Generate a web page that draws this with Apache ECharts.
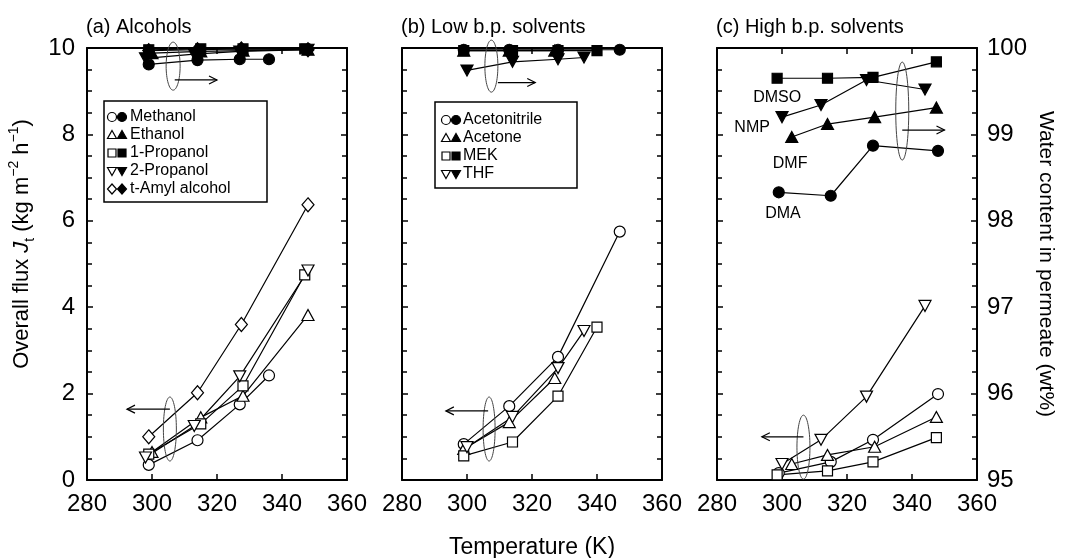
<!DOCTYPE html>
<html>
<head>
<meta charset="utf-8">
<script src="https://cdn.jsdelivr.net/npm/echarts@6/dist/echarts.min.js"></script>
<style>
  html, body { margin: 0; background: #fff; }
  #main { width: 1067px; height: 558px; }
</style>
</head>
<body>
<div id="main"></div>
<script>
// ---- data: [temperature K, value] ----
// (a) alcohols, flux kg m-2 h-1
const alcoholNames = ['Methanol', 'Ethanol', '1-Propanol', '2-Propanol', 't-Amyl alcohol'];
const methanolFlux = [[299, 0.35], [314, 0.92], [327, 1.75], [336, 2.42]];
const ethanolFlux = [[300, 0.65], [315, 1.45], [328, 1.95], [348, 3.82]];
const propanol1Flux = [[299, 0.6], [315, 1.3], [328, 2.18], [347, 4.75]];
const propanol2Flux = [[298, 0.52], [313, 1.25], [327, 2.4], [348, 4.85]];
const tAmylFlux = [[299, 1.0], [314, 2.02], [327.5, 3.6], [348, 6.37]];
// (a) alcohols, water content wt%
const methanolWater = [[299, 99.81], [314, 99.86], [327, 99.87], [336, 99.87]];
const ethanolWater = [[300, 99.94], [315, 99.96], [328, 99.97], [348, 99.98]];
const propanol1Water = [[299, 99.98], [315, 99.99], [328, 99.99], [347, 99.99]];
const propanol2Water = [[298, 99.88], [313, 99.93], [327, 99.96], [348, 99.98]];
const tAmylWater = [[299, 99.97], [314, 99.98], [327.5, 99.99], [348, 99.98]];

// (b) low b.p. solvents
const lowNames = ['Acetonitrile', 'Acetone', 'MEK', 'THF'];
const acetonitrileFlux = [[299, 0.83], [313, 1.71], [328, 2.85], [347, 5.75]];
const acetoneFlux = [[299, 0.72], [313, 1.34], [327, 2.36]];
const mekFlux = [[299, 0.56], [314, 0.88], [328, 1.94], [340, 3.54]];
const thfFlux = [[300, 0.76], [314, 1.46], [328, 2.59], [336, 3.45]];
const acetonitrileWater = [[299, 99.98], [313, 99.98], [328, 99.98], [347, 99.98]];
const acetoneWater = [[299, 99.97], [313, 99.97], [327, 99.97]];
const mekWater = [[299, 99.97], [314, 99.97], [328, 99.97], [340, 99.97]];
const thfWater = [[300, 99.74], [314, 99.84], [328, 99.87], [336, 99.89]];

// (c) high b.p. solvents
const highNames = ['DMA', 'DMF', 'DMSO', 'NMP'];
const dmaFlux = [[299, 0.16], [315, 0.42], [328, 0.93], [348, 1.99]];
const dmfFlux = [[303, 0.37], [314, 0.58], [328.5, 0.77], [347.5, 1.46]];
const dmsoFlux = [[298.5, 0.12], [314, 0.21], [328, 0.42], [347.5, 0.98]];
const nmpFlux = [[300, 0.37], [312, 0.93], [326, 1.93], [344, 4.03]];
const dmaWater = [[299, 98.33], [315, 98.29], [328, 98.87], [348, 98.81]];
const dmfWater = [[303, 98.97], [314, 99.12], [328.5, 99.2], [347.5, 99.31]];
const dmsoWater = [[298.5, 99.65], [314, 99.65], [328, 99.66], [347.5, 99.84]];
const nmpWater = [[300, 99.2], [312, 99.34], [326, 99.63], [344, 99.52]];

// axis ranges / ticks
const tempRange = [280, 360, 20];
const fluxRange = [0, 10, 2];
const waterRange = [95, 100, 1];

const FONT = '"Liberation Sans", Arial, sans-serif';
const SYM = {
  circle: { symbol: 'circle', size: 11, rotate: 0 },
  up: { symbol: 'triangle', size: [12, 11], rotate: 0 },
  square: { symbol: 'rect', size: 10, rotate: 0 },
  down: { symbol: 'triangle', size: [12, 11], rotate: 180 },
  diamond: { symbol: 'diamond', size: [12, 14], rotate: 0 }
};

const panels = [
  {
    title: '(a) Alcohols',
    flux: [methanolFlux, ethanolFlux, propanol1Flux, propanol2Flux, tAmylFlux],
    water: [methanolWater, ethanolWater, propanol1Water, propanol2Water, tAmylWater],
    shapes: ['circle', 'up', 'square', 'down', 'diamond'],
    names: alcoholNames
  },
  {
    title: '(b) Low b.p. solvents',
    flux: [acetonitrileFlux, acetoneFlux, mekFlux, thfFlux],
    water: [acetonitrileWater, acetoneWater, mekWater, thfWater],
    shapes: ['circle', 'up', 'square', 'down'],
    names: lowNames
  },
  {
    title: '(c) High b.p. solvents',
    flux: [dmaFlux, dmfFlux, dmsoFlux, nmpFlux],
    water: [dmaWater, dmfWater, dmsoWater, nmpWater],
    shapes: ['circle', 'up', 'square', 'down'],
    names: highNames
  }
];

const gridLeft = [87, 402, 717];
const black = '#000';
const lineAx = { onZero: false, lineStyle: { color: black, width: 2 } };
const tickAx = { inside: true, length: 6, lineStyle: { color: black, width: 1.5 } };
const minorAx = { show: true, splitNumber: 4, length: 5, lineStyle: { color: black, width: 1.5 } };
const labelAx = { fontSize: 24, color: black, fontFamily: FONT, showMinLabel: true, showMaxLabel: true };

const grids = [], xAxes = [], yAxes = [], titles = [], series = [];

panels.forEach((p, g) => {
  grids.push({ left: gridLeft[g], top: 48, width: 260, height: 432, outerBoundsMode: 'none', containLabel: false });
  titles.push({
    text: p.title, left: gridLeft[g] - 1, top: 17, padding: 0,
    textStyle: { fontSize: 20, fontWeight: 'normal', color: black, fontFamily: FONT }
  });
  xAxes.push({
    gridIndex: g, type: 'value', position: 'bottom',
    min: tempRange[0], max: tempRange[1], interval: tempRange[2],
    axisLine: lineAx, axisTick: tickAx, splitLine: { show: false },
    axisLabel: Object.assign({ margin: 12 }, labelAx),
    name: g === 1 ? 'Temperature (K)' : '', nameLocation: 'middle', nameGap: 56,
    nameTextStyle: { fontSize: 23, color: black, fontFamily: FONT }
  });
  xAxes.push({
    gridIndex: g, type: 'value', position: 'top',
    min: tempRange[0], max: tempRange[1], interval: tempRange[2],
    axisLine: lineAx, axisTick: tickAx, splitLine: { show: false },
    axisLabel: { show: false }
  });
  yAxes.push({
    gridIndex: g, type: 'value', position: 'left',
    min: fluxRange[0], max: fluxRange[1], interval: fluxRange[2],
    axisLine: lineAx, axisTick: tickAx, minorTick: minorAx, splitLine: { show: false },
    axisLabel: Object.assign({ show: g === 0, margin: 12 }, labelAx),
    name: g === 0 ? '{n|Overall flux }{i|J}{s|t}{n| (kg m}{p|−2}{n| h}{p|−1}{n|)}' : '',
    nameLocation: 'middle', nameGap: 50,
    nameTextStyle: {
      color: black, fontFamily: FONT, fontSize: 22, padding: [0, 0, 0, 40],
      rich: {
        n: { fontSize: 22, fontFamily: FONT, lineHeight: 30 },
        i: { fontSize: 22, fontFamily: FONT, fontStyle: 'italic', lineHeight: 30 },
        s: { fontSize: 14, fontFamily: FONT, verticalAlign: 'bottom', lineHeight: 30 },
        p: { fontSize: 14, fontFamily: FONT, verticalAlign: 'top', lineHeight: 30 }
      }
    }
  });
  yAxes.push({
    gridIndex: g, type: 'value', position: 'right',
    min: waterRange[0], max: waterRange[1], interval: waterRange[2],
    axisLine: lineAx, axisTick: tickAx, minorTick: minorAx, splitLine: { show: false },
    axisLabel: Object.assign({ show: g === 2, margin: 10 }, labelAx),
    name: g === 2 ? 'Water content in permeate (wt%)' : '',
    nameLocation: 'middle', nameGap: 58, nameRotate: -90,
    nameTextStyle: { fontSize: 21, color: black, fontFamily: FONT }
  });

  const mk = (data, shape, filled, yIdx) => {
    const s = SYM[shape];
    return {
      type: 'line', xAxisIndex: 2 * g, yAxisIndex: yIdx, data: data,
      symbol: s.symbol, symbolSize: s.size, symbolRotate: s.rotate, showAllSymbol: true,
      clip: false, animation: false, emphasis: { disabled: true },
      lineStyle: { color: black, width: 1.2 },
      itemStyle: { color: filled ? black : '#fff', borderColor: black, borderWidth: 1.2 }
    };
  };
  p.flux.forEach((d, i) => series.push(mk(d, p.shapes[i], false, 2 * g)));
  p.water.forEach((d, i) => series.push(mk(d, p.shapes[i], true, 2 * g + 1)));
});

const chart = echarts.init(document.getElementById('main'));
chart.setOption({
  backgroundColor: '#fff',
  animation: false,
  title: titles,
  grid: grids,
  xAxis: xAxes,
  yAxis: yAxes,
  series: series
});

// ---- annotations (ellipses, arrows, labels) placed in data coordinates ----
const ellipses = [
  { g: 0, w: false, c: [305.5, 1.18], rx: 6.5, ry: 32 },
  { g: 0, w: true, c: [306.5, 99.79], rx: 7, ry: 24 },
  { g: 1, w: false, c: [306.8, 1.18], rx: 6, ry: 32 },
  { g: 1, w: true, c: [307.5, 99.79], rx: 6.5, ry: 26 },
  { g: 2, w: false, c: [306.6, 0.76], rx: 6.5, ry: 32 },
  { g: 2, w: true, c: [337, 99.27], rx: 6.5, ry: 49 }
];
const arrows = [
  { g: 0, w: false, from: [305.5, 1.64], to: [292.3, 1.64] },
  { g: 0, w: true, from: [307, 99.63], to: [320, 99.63] },
  { g: 1, w: false, from: [306.5, 1.6], to: [293.5, 1.6] },
  { g: 1, w: true, from: [309.5, 99.6], to: [321, 99.6] },
  { g: 2, w: false, from: [306.6, 1.0], to: [293.8, 1.0] },
  { g: 2, w: true, from: [337, 99.05], to: [350, 99.05] }
];
const highLabels = [
  { text: 'DMSO', at: [298.5, 99.43] },
  { text: 'NMP', at: [290.8, 99.08] },
  { text: 'DMF', at: [302.5, 98.66] },
  { text: 'DMA', at: [300.3, 98.08] }
];

const toPx = (g, w, pt) => chart.convertToPixel({ xAxisIndex: 2 * g, yAxisIndex: 2 * g + (w ? 1 : 0) }, pt);
const graphic = [];

ellipses.forEach(e => {
  const c = toPx(e.g, e.w, e.c);
  graphic.push({
    type: 'ellipse', z: 50, silent: true,
    shape: { cx: c[0], cy: c[1], rx: e.rx, ry: e.ry },
    style: { fill: 'none', stroke: '#444', lineWidth: 1 }
  });
});
arrows.forEach(a => {
  const f = toPx(a.g, a.w, a.from), t = toPx(a.g, a.w, a.to);
  const dir = t[0] > f[0] ? 1 : -1;
  graphic.push({
    type: 'line', z: 50, silent: true,
    shape: { x1: f[0], y1: f[1], x2: t[0], y2: t[1] },
    style: { stroke: black, lineWidth: 1.2 }
  });
  graphic.push({
    type: 'polyline', z: 50, silent: true,
    shape: { points: [[t[0] - dir * 8, t[1] - 4], [t[0], t[1]], [t[0] - dir * 8, t[1] + 4]] },
    style: { stroke: black, fill: 'none', lineWidth: 1.2 }
  });
});
highLabels.forEach(l => {
  const c = toPx(2, true, l.at);
  graphic.push({
    type: 'text', z: 50, silent: true, x: c[0], y: c[1],
    style: { text: l.text, fontSize: 16, fontFamily: FONT, fill: black, align: 'center', verticalAlign: 'middle' }
  });
});

// small legend glyph, drawn as a shape
function glyph(shape, cx, cy, filled) {
  const st = { fill: filled ? black : '#fff', stroke: black, lineWidth: 1.2 };
  const r = 4.5;
  if (shape === 'circle') return { type: 'circle', shape: { cx, cy, r }, style: st, z: 41, silent: true };
  if (shape === 'square') return { type: 'rect', shape: { x: cx - 4, y: cy - 4, width: 8, height: 8 }, style: st, z: 41, silent: true };
  let pts;
  if (shape === 'up') pts = [[cx, cy - r], [cx + r, cy + r - 1], [cx - r, cy + r - 1]];
  else if (shape === 'down') pts = [[cx, cy + r], [cx + r, cy - r + 1], [cx - r, cy - r + 1]];
  else pts = [[cx, cy - r - 0.5], [cx + r, cy], [cx, cy + r + 0.5], [cx - r, cy]];
  return { type: 'polygon', shape: { points: pts }, style: st, z: 41, silent: true };
}

// legend boxes for (a) and (b)
const legends = [
  { p: 0, x: 104, y: 101, w: 163, h: 101, row0: 117, symX: [112, 122], textX: 130 },
  { p: 1, x: 435, y: 102, w: 142, h: 86, row0: 120, symX: [446, 456], textX: 463 }
];
legends.forEach(L => {
  const p = panels[L.p];
  graphic.push({
    type: 'rect', z: 40, silent: true,
    shape: { x: L.x, y: L.y, width: L.w, height: L.h },
    style: { fill: '#fff', stroke: black, lineWidth: 1.5 }
  });
  p.names.forEach((nm, i) => {
    const y = L.row0 + i * 18;
    graphic.push(glyph(p.shapes[i], L.symX[0], y, false));
    graphic.push(glyph(p.shapes[i], L.symX[1], y, true));
    graphic.push({
      type: 'text', z: 41, silent: true, x: L.textX, y: y,
      style: { text: nm, fontSize: 16, fontFamily: FONT, fill: black, verticalAlign: 'middle' }
    });
  });
});

chart.setOption({ graphic: graphic });
</script>
</body>
</html>
